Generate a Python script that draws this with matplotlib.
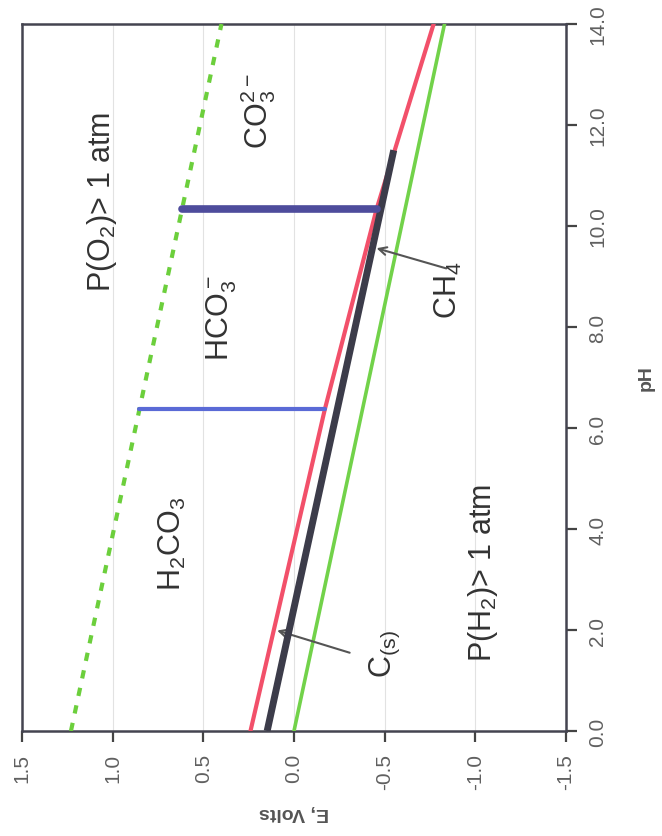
import numpy as np
import matplotlib
matplotlib.use("Agg")
import matplotlib.pyplot as plt

plt.rcParams['font.family'] = ['Liberation Sans', 'DejaVu Sans']
plt.rcParams['mathtext.default'] = 'regular'

# ==========================================================
# Dados (E em volts, pH)
# ==========================================================

ph_limite = [0.0, 14.0]
e_o2 = [1.23, 0.40]          # P(O2) = 1 atm (tracejada)
e_h2 = [0.00, -0.83]         # P(H2) = 1 atm

ph_ch4 = [0.0, 6.37, 10.33, 14.0]
e_ch4 = [0.24, -0.17, -0.455, -0.77]   # linha vermelha

ph_cs = [0.0, 11.5]
e_cs = [0.148, -0.55]        # linha preta (C(s))

ph_pka1 = 6.37
e_pka1 = [0.854, -0.17]
ph_pka2 = 10.33
e_pka2 = [0.62, -0.455]

e_ticks = [1.5, 1.0, 0.5, 0.0, -0.5, -1.0, -1.5]
ph_ticks = [0.0, 2.0, 4.0, 6.0, 8.0, 10.0, 12.0, 14.0]

rotulos = [
    ('P(O$_2$)> 1 atm', 1.06, 10.5),
    ('CO$_3^{2-}$', 0.20, 12.3),
    ('HCO$_3^-$', 0.40, 8.2),
    ('H$_2$CO$_3$', 0.67, 3.72),
    ('CH$_4$', -0.85, 8.75),
    ('C$_{(s)}$', -0.50, 1.55),
    ('P(H$_2$)> 1 atm', -1.04, 3.15),
]

# ==========================================================
# Figura (diagrama girado: E na horizontal, pH na vertical)
# ==========================================================

fig = plt.figure(figsize=(6.62, 8.37), dpi=100)
ax = fig.add_axes([22/662, 1 - 732/837, 544/662, 707/837])

ax.set_xlim(1.5, -1.5)
ax.set_ylim(0, 14)

for e in e_ticks[1:-1]:
    ax.axvline(e, color='#e2e2e2', lw=0.8, zorder=0)

ax.plot(e_o2, ph_limite, color='#6ccf3c', lw=3, dashes=(2.0, 2.3), zorder=3)
ax.plot(e_h2, ph_limite, color='#72d24a', lw=2.6, zorder=3)
ax.plot(e_ch4, ph_ch4, color='#f2506a', lw=3, zorder=3)
ax.plot(e_cs, ph_cs, color='#3c3c4a', lw=5, zorder=4, solid_capstyle='butt')

ax.plot(e_pka1, [ph_pka1, ph_pka1], color='#5a6ad6', lw=3, zorder=5,
        solid_capstyle='round')
ax.plot(e_pka2, [ph_pka2, ph_pka2], color='#4e4c9c', lw=5.5, zorder=5,
        solid_capstyle='round')

for txt, e, ph in rotulos:
    ax.text(e, ph, txt, rotation=90, ha='center', va='center',
            fontsize=22, color='#333333')

seta = dict(arrowstyle='->', color='#555555', lw=1.5,
            shrinkA=0, shrinkB=0, mutation_scale=14)
ax.annotate('', xy=(-0.455, 9.56), xytext=(-0.84, 9.16), arrowprops=seta)
ax.annotate('', xy=(0.093, 1.99), xytext=(-0.307, 1.55), arrowprops=seta)

ax.set_xticks(e_ticks)
ax.set_xticklabels([f'{v:.1f}' for v in e_ticks], rotation=90)
ax.yaxis.tick_right()
ax.yaxis.set_label_position('right')
ax.set_yticks(ph_ticks)
ax.set_yticklabels([f'{v:.1f}' for v in ph_ticks], rotation=90, va='center')

ax.tick_params(axis='both', direction='out', length=8, width=1.6,
               color='#444444', labelcolor='#606060', labelsize=15, pad=8)
ax.tick_params(axis='x', top=False)
ax.tick_params(axis='y', left=False)

for s in ax.spines.values():
    s.set_color('#444450')
    s.set_linewidth(1.8)

ax.set_xlabel('E, Volts', rotation=180, fontsize=14, fontweight='bold',
              color='#555555', labelpad=10)
ax.set_ylabel('pH', rotation=90, fontsize=14, fontweight='bold',
              color='#555555', labelpad=22)

fig.savefig('out.png', dpi=100)
